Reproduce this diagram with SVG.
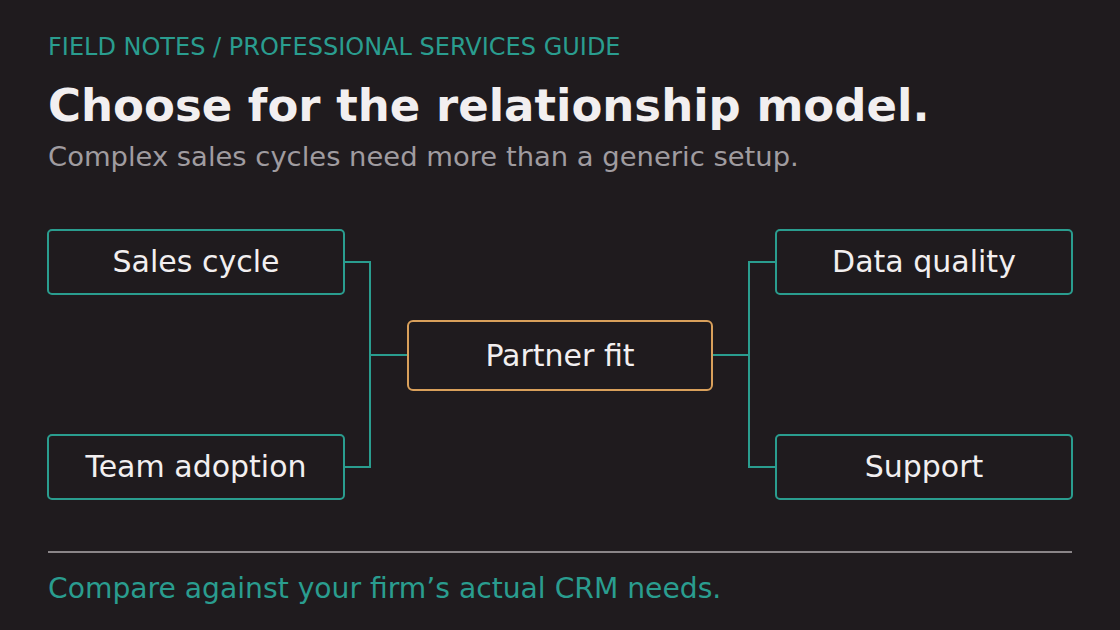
<svg xmlns="http://www.w3.org/2000/svg" width="1120" height="630" viewBox="0 0 1120 630">
<style>
text{font-family:"DejaVu Sans",sans-serif}
.box{fill:#1f1b1e;stroke:#2a9d8f;stroke-width:2}
.lbl{fill:#f2eff0;font-size:30px;text-anchor:middle}
.con{fill:none;stroke:#2a9d8f;stroke-width:2}
</style>
<rect width="1120" height="630" fill="#1f1b1e"/>
<text x="48" y="55" font-size="24" fill="#2a9d8f">FIELD NOTES / PROFESSIONAL SERVICES GUIDE</text>
<text x="48" y="121" font-size="45" font-weight="bold" fill="#f2eff0">Choose for the relationship model.</text>
<text x="48" y="166" font-size="27.4" fill="#a09ca0">Complex sales cycles need more than a generic setup.</text>
<g id="connectors">
<path class="con" d="M344 262H370V467H344M370 355H408"/>
<path class="con" d="M712 355H749M776 262H749V467H776"/>
</g>
<g id="sales"><rect class="box" x="48" y="230" width="296" height="64" rx="4"/><text class="lbl" x="196" y="272">Sales cycle</text></g>
<g id="team"><rect class="box" x="48" y="435" width="296" height="64" rx="4"/><text class="lbl" x="196" y="477">Team adoption</text></g>
<g id="partner"><rect class="box" x="408" y="321" width="304" height="69" rx="5" style="stroke:#d9a05b"/><text class="lbl" x="560" y="366">Partner fit</text></g>
<g id="data"><rect class="box" x="776" y="230" width="296" height="64" rx="4"/><text class="lbl" x="924" y="272">Data quality</text></g>
<g id="support"><rect class="box" x="776" y="435" width="296" height="64" rx="4"/><text class="lbl" x="924" y="477">Support</text></g>
<line x1="48" y1="552" x2="1072" y2="552" stroke="#8a8588" stroke-width="2"/>
<text x="48" y="598" font-size="28.2" fill="#2a9d8f">Compare against your firm’s actual CRM needs.</text>
</svg>
